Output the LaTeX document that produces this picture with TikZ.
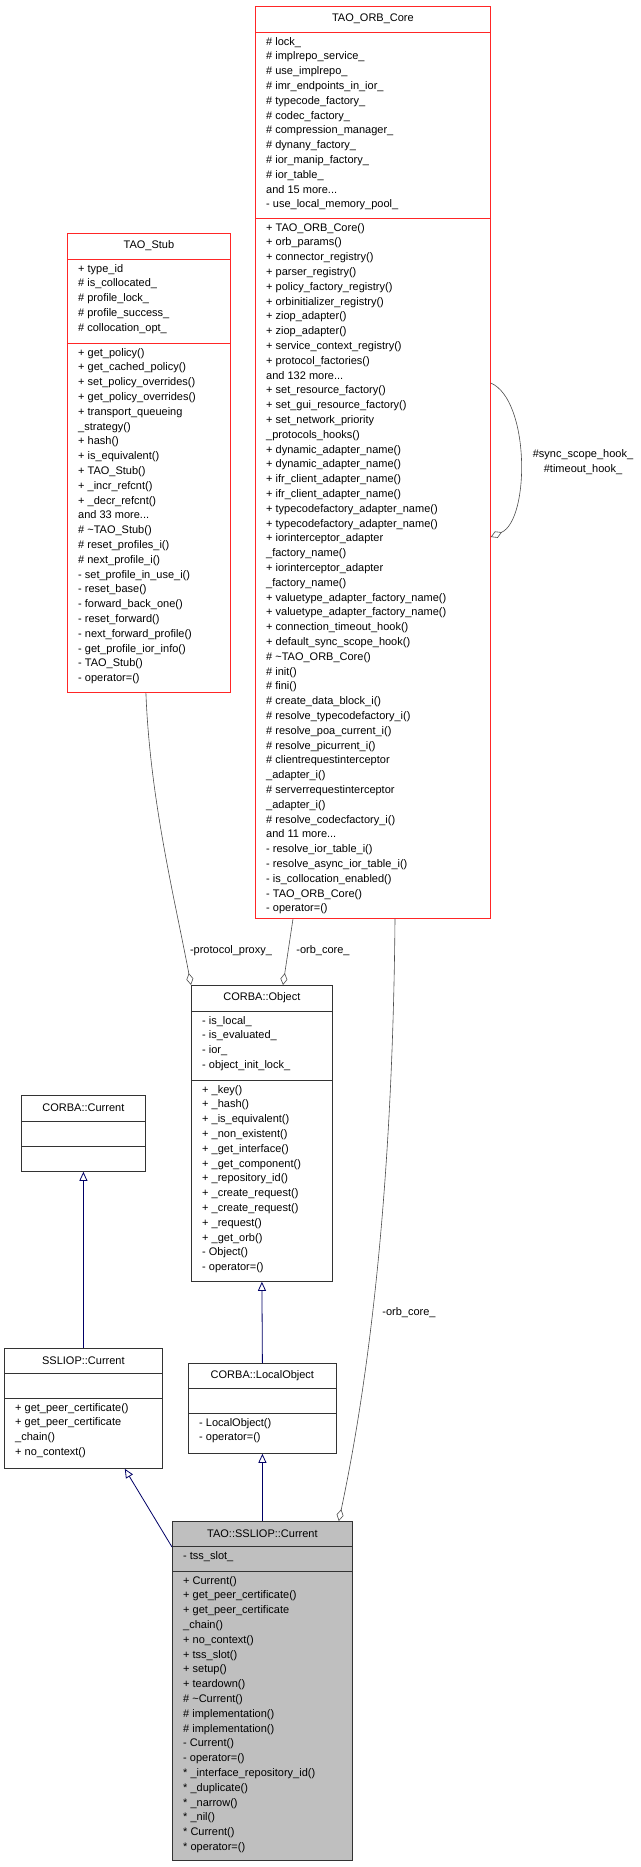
\documentclass[tikz,border=0pt]{standalone}
\usepackage{fontspec}
\setmainfont{Liberation Sans}
\usetikzlibrary{positioning, arrows.meta, calc}

\begin{document}
\begin{tikzpicture}[
        x=1pt, y=-1pt,
        every node/.style={font=\fontsize{11}{14.8}\selectfont},
        redbox/.style={rectangle, draw=red!85!white, thick, anchor=north west, inner sep=0},
        blkbox/.style={rectangle, draw=black!80, thick, anchor=north west, inner sep=0},
        selfbox/.style={blkbox, fill=black!25},
        title/.style={inner sep=0},
        members/.style={anchor=north west, align=left, inner sep=0},
        inherit/.style={draw=blue!40!black, thick, -{Triangle[open, length=9pt, width=8pt]}},
        aggr/.style={draw=black!70, semithick, -{Diamond[open, length=12pt, width=7pt]}},
        role/.style={inner sep=1pt, align=center}
    ]
        \useasboundingbox (0,0) rectangle (640,1867);
        % TAO_ORB_Core
        \node[redbox, minimum width=235pt, minimum height=912pt] (orb) at (255,6) {};
        \node[title] at ($(orb.north)+(0,13)$) {TAO\_ORB\_Core};
        \draw[red!85!white, thick] ($(orb.north west)+(0,26)$) -- ++(235,0);
        \draw[red!85!white, thick] ($(orb.north west)+(0,212)$) -- ++(235,0);
        \node[members] at ($(orb.north west)+(11,31)$) {\# lock\_\\\# implrepo\_service\_\\\# use\_implrepo\_\\\# imr\_endpoints\_in\_ior\_\\\# typecode\_factory\_\\\# codec\_factory\_\\\# compression\_manager\_\\\# dynany\_factory\_\\\# ior\_manip\_factory\_\\\# ior\_table\_\\and 15 more...\\- use\_local\_memory\_pool\_};
        \node[members] at ($(orb.north west)+(11,217)$) {+ TAO\_ORB\_Core()\\+ orb\_params()\\+ connector\_registry()\\+ parser\_registry()\\+ policy\_factory\_registry()\\+ orbinitializer\_registry()\\+ ziop\_adapter()\\+ ziop\_adapter()\\+ service\_context\_registry()\\+ protocol\_factories()\\and 132 more...\\+ set\_resource\_factory()\\+ set\_gui\_resource\_factory()\\+ set\_network\_priority\\\_protocols\_hooks()\\+ dynamic\_adapter\_name()\\+ dynamic\_adapter\_name()\\+ ifr\_client\_adapter\_name()\\+ ifr\_client\_adapter\_name()\\+ typecodefactory\_adapter\_name()\\+ typecodefactory\_adapter\_name()\\+ iorinterceptor\_adapter\\\_factory\_name()\\+ iorinterceptor\_adapter\\\_factory\_name()\\+ valuetype\_adapter\_factory\_name()\\+ valuetype\_adapter\_factory\_name()\\+ connection\_timeout\_hook()\\+ default\_sync\_scope\_hook()\\\# \textasciitilde TAO\_ORB\_Core()\\\# init()\\\# fini()\\\# create\_data\_block\_i()\\\# resolve\_typecodefactory\_i()\\\# resolve\_poa\_current\_i()\\\# resolve\_picurrent\_i()\\\# clientrequestinterceptor\\\_adapter\_i()\\\# serverrequestinterceptor\\\_adapter\_i()\\\# resolve\_codecfactory\_i()\\and 11 more...\\- resolve\_ior\_table\_i()\\- resolve\_async\_ior\_table\_i()\\- is\_collocation\_enabled()\\- TAO\_ORB\_Core()\\- operator=()};
        % TAO_Stub
        \node[redbox, minimum width=163pt, minimum height=459pt] (stub) at (67,233) {};
        \node[title] at ($(stub.north)+(0,13)$) {TAO\_Stub};
        \draw[red!85!white, thick] ($(stub.north west)+(0,26)$) -- ++(163,0);
        \draw[red!85!white, thick] ($(stub.north west)+(0,110)$) -- ++(163,0);
        \node[members] at ($(stub.north west)+(11,31)$) {+ type\_id\\\# is\_collocated\_\\\# profile\_lock\_\\\# profile\_success\_\\\# collocation\_opt\_};
        \node[members] at ($(stub.north west)+(11,115)$) {+ get\_policy()\\+ get\_cached\_policy()\\+ set\_policy\_overrides()\\+ get\_policy\_overrides()\\+ transport\_queueing\\\_strategy()\\+ hash()\\+ is\_equivalent()\\+ TAO\_Stub()\\+ \_incr\_refcnt()\\+ \_decr\_refcnt()\\and 33 more...\\\# \textasciitilde TAO\_Stub()\\\# reset\_profiles\_i()\\\# next\_profile\_i()\\- set\_profile\_in\_use\_i()\\- reset\_base()\\- forward\_back\_one()\\- reset\_forward()\\- next\_forward\_profile()\\- get\_profile\_ior\_info()\\- TAO\_Stub()\\- operator=()};
        % CORBA::Object
        \node[blkbox, minimum width=141pt, minimum height=296pt] (obj) at (191,985) {};
        \node[title] at ($(obj.north)+(0,13)$) {CORBA::Object};
        \draw[black!80, thick] ($(obj.north west)+(0,26)$) -- ++(141,0);
        \draw[black!80, thick] ($(obj.north west)+(0,95)$) -- ++(141,0);
        \node[members] at ($(obj.north west)+(11,31)$) {- is\_local\_\\- is\_evaluated\_\\- ior\_\\- object\_init\_lock\_};
        \node[members] at ($(obj.north west)+(11,100)$) {+ \_key()\\+ \_hash()\\+ \_is\_equivalent()\\+ \_non\_existent()\\+ \_get\_interface()\\+ \_get\_component()\\+ \_repository\_id()\\+ \_create\_request()\\+ \_create\_request()\\+ \_request()\\+ \_get\_orb()\\- Object()\\- operator=()};
        % CORBA::Current
        \node[blkbox, minimum width=124pt, minimum height=76pt] (cur) at (21,1095) {};
        \node[title] at ($(cur.north)+(0,13)$) {CORBA::Current};
        \draw[black!80, thick] ($(cur.north west)+(0,26)$) -- ++(124,0);
        \draw[black!80, thick] ($(cur.north west)+(0,51)$) -- ++(124,0);
        % SSLIOP::Current
        \node[blkbox, minimum width=158pt, minimum height=120pt] (ssl) at (4,1348) {};
        \node[title] at ($(ssl.north)+(0,13)$) {SSLIOP::Current};
        \draw[black!80, thick] ($(ssl.north west)+(0,25)$) -- ++(158,0);
        \draw[black!80, thick] ($(ssl.north west)+(0,50)$) -- ++(158,0);
        \node[members] at ($(ssl.north west)+(11,55)$) {+ get\_peer\_certificate()\\+ get\_peer\_certificate\\\_chain()\\+ no\_context()};
        % CORBA::LocalObject
        \node[blkbox, minimum width=148pt, minimum height=90pt] (lobj) at (188,1363) {};
        \node[title] at ($(lobj.north)+(0,13)$) {CORBA::LocalObject};
        \draw[black!80, thick] ($(lobj.north west)+(0,25)$) -- ++(148,0);
        \draw[black!80, thick] ($(lobj.north west)+(0,50)$) -- ++(148,0);
        \node[members] at ($(lobj.north west)+(11,55)$) {- LocalObject()\\- operator=()};
        % TAO::SSLIOP::Current
        \node[selfbox, minimum width=180pt, minimum height=339pt] (tao) at (172,1521) {};
        \node[title] at ($(tao.north)+(0,13)$) {TAO::SSLIOP::Current};
        \draw[black!80, thick] ($(tao.north west)+(0,25)$) -- ++(180,0);
        \draw[black!80, thick] ($(tao.north west)+(0,50)$) -- ++(180,0);
        \node[members] at ($(tao.north west)+(11,30)$) {- tss\_slot\_};
        \node[members] at ($(tao.north west)+(11,55)$) {+ Current()\\+ get\_peer\_certificate()\\+ get\_peer\_certificate\\\_chain()\\+ no\_context()\\+ tss\_slot()\\+ setup()\\+ teardown()\\\# \textasciitilde Current()\\\# implementation()\\\# implementation()\\- Current()\\- operator=()\\* \_interface\_repository\_id()\\* \_duplicate()\\* \_narrow()\\* \_nil()\\* Current()\\* operator=()};
        % Inheritance
        \draw[inherit] (ssl.north) -- (cur.south);
        \draw[inherit] (lobj.north) -- (obj.south);
        \draw[inherit] ($(tao.north west)+(0,26)$) -- ($(ssl.south east)+(-38,0)$);
        \draw[inherit] (tao.north) -- (lobj.south);
        % Aggregation
        \draw[aggr] ($(stub.south)+(-3,0)$) .. controls (150,800) and (175,900) .. (obj.north west);
        \node[role] (pp) at (231,951) {-protocol\_proxy\_};
        \draw[aggr] ($(orb.south west)+(38,0)$) -- ($(obj.north west)+(92,0)$);
        \node[role] (oc1) at (323,951) {-orb\_core\_};
        \draw[aggr] ($(orb.south west)+(140,0)$) .. controls (393,1150) and (375,1350) .. ($(tao.north east)+(-14,0)$);
        \node[role] (oc2) at (409,1313) {-orb\_core\_};
        \draw[aggr] ($(orb.north east)+(0,377)$) .. controls (530,400) and (530,520) .. ($(orb.north east)+(0,531)$);
        \node[role] (hook) at (583,462) {\#sync\_scope\_hook\_\\\#timeout\_hook\_};
\end{tikzpicture}
\end{document}
